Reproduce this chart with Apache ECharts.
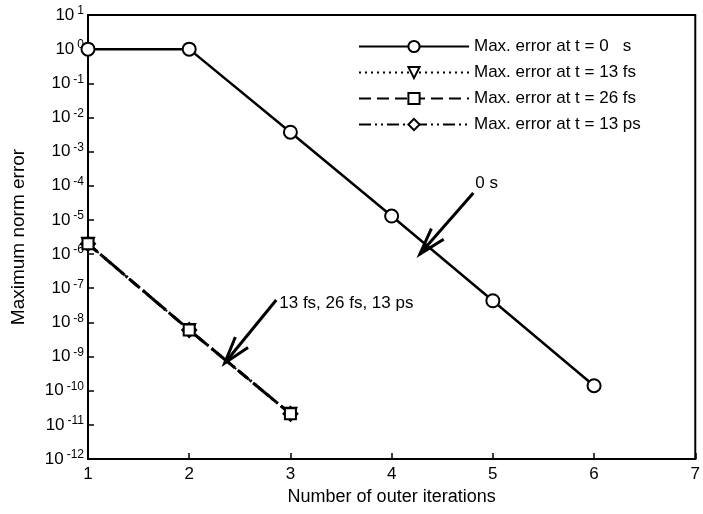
<!DOCTYPE html>
<html style="height: 100%;width:100%">
<head>
	<title>Maximum norm error</title>
	<meta charset="UTF-8">
	<script src="https://cdn.jsdelivr.net/npm/echarts@6/dist/echarts.min.js"></script>
	<style type="text/css">
		body{ height:100%;width:100%; margin:0px; background:#FFFFFF; }
	</style>
</head>
<body>
<div id="container" style="width:703px;height:514px"></div>

<script type="text/javascript">

// outer iteration numbers
var iterations = [1, 2, 3, 4, 5, 6];
var iterationsShort = [1, 2, 3];

// max norm error per series
var err0s = [1.0, 1.0, 3.7e-3, 1.3e-5, 4.3e-8, 1.4e-10];
var err13fs = [2.0e-6, 6.0e-9, 2.1e-11];
var err26fs = [2.0e-6, 6.0e-9, 2.1e-11];
var err13ps = [2.0e-6, 6.0e-9, 2.1e-11];

var seriesNames = ['Max. error at t = 0   s', 'Max. error at t = 13 fs', 'Max. error at t = 26 fs', 'Max. error at t = 13 ps'];

// arrows: [from, to] in data units
var arrow0s = [[4.807, 6.1e-5], [4.279, 1.0e-6]];
var arrowFs = [[2.860, 4.5e-8], [2.351, 6.5e-10]];
var arrowTexts = ['0 s', '13 fs, 26 fs, 13 ps'];

var fontName = "'Liberation Sans', Arial, sans-serif";

function pairs(xs, ys) {
	var out = [];
	for (var i = 0; i < ys.length; i++) {
		out.push([xs[i], ys[i]]);
	}
	return out;
}

var dom = document.getElementById("container");
var myChart = echarts.init(dom, null, {renderer: 'canvas'});

var option = {
	animation: false,
	textStyle: { fontFamily: fontName, color: '#000' },
	grid: {
		left: 88, right: 2, top: 15, bottom: 55,
		show: true, borderColor: '#000', borderWidth: 2, backgroundColor: 'transparent'
	},
	legend: {
		orient: 'vertical',
		left: 353, top: 33,
		itemWidth: 110, itemHeight: 14, itemGap: 9,
		textStyle: { fontSize: 17, color: '#000', fontFamily: fontName },
		data: seriesNames,
		selectedMode: false
	},
	xAxis: {
		type: 'value', min: 1, max: 7, interval: 1,
		name: 'Number of outer iterations', nameLocation: 'middle', nameGap: 26,
		nameTextStyle: { fontSize: 18, color: '#000', fontFamily: fontName },
		axisLine: { lineStyle: { color: '#000', width: 2 } },
		axisTick: { inside: true, length: 6, lineStyle: { width: 1.5, color: '#000' } },
		axisLabel: { fontSize: 17, color: '#000', margin: 7, fontFamily: fontName },
		splitLine: { show: false }
	},
	yAxis: {
		type: 'log', logBase: 10, min: 1e-12, max: 10, interval: 1, splitNumber: 13,
		name: 'Maximum norm error', nameLocation: 'middle', nameGap: 60,
		nameTextStyle: { fontSize: 19, color: '#000', fontFamily: fontName },
		axisLine: { lineStyle: { color: '#000', width: 2 } },
		axisTick: { inside: true, length: 6, lineStyle: { width: 1.5, color: '#000' } },
		axisLabel: {
			margin: 4,
			formatter: function (v) {
				var e = Math.round(Math.log(v) / Math.LN10);
				return '{b|10}{e|' + (e < 0 ? '-' + (-e) : e) + '}';
			},
			rich: {
				b: { fontSize: 17, color: '#000', fontFamily: fontName },
				e: { fontSize: 12, color: '#000', fontFamily: fontName, verticalAlign: 'top', padding: [0, 0, 8, 3] }
			}
		},
		splitLine: { show: false }
	},
	series: [
		{
			name: seriesNames[0], type: 'line', data: pairs(iterations, err0s),
			symbol: 'emptyCircle', symbolSize: 13,
			lineStyle: { color: '#000', width: 2.5, type: 'solid' },
			itemStyle: { color: '#000', borderWidth: 1.8 },
			emphasis: { disabled: true }, z: 4
		},
		{
			name: seriesNames[1], type: 'line', data: pairs(iterationsShort, err13fs),
			symbol: 'emptyTriangle', symbolRotate: 180, symbolSize: 12,
			lineStyle: { color: '#000', width: 2, type: [2, 4] },
			itemStyle: { color: '#000', borderWidth: 1.8 },
			emphasis: { disabled: true }, z: 2
		},
		{
			name: seriesNames[2], type: 'line', data: pairs(iterationsShort, err26fs),
			symbol: 'emptyRect', symbolSize: 11,
			lineStyle: { color: '#000', width: 3, type: [12, 6] },
			itemStyle: { color: '#000', borderWidth: 1.8 },
			emphasis: { disabled: true }, z: 3
		},
		{
			name: seriesNames[3], type: 'line', data: pairs(iterationsShort, err13ps),
			symbol: 'emptyDiamond', symbolSize: 14,
			lineStyle: { color: '#000', width: 3, type: [12, 4, 2, 4, 2, 4] },
			itemStyle: { color: '#000', borderWidth: 1.8 },
			emphasis: { disabled: true }, z: 2
		}
	]
};

myChart.setOption(option, true);

// open arrows drawn in pixel space from data-space end points
function arrowGraphics(arrow, label, dx, dy) {
	var p0 = myChart.convertToPixel({gridIndex: 0}, arrow[0]);
	var p1 = myChart.convertToPixel({gridIndex: 0}, arrow[1]);
	var ang = Math.atan2(p0[1] - p1[1], p0[0] - p1[0]);
	var len = 28, spread = 17 * Math.PI / 180;
	var b1 = [p1[0] + len * Math.cos(ang + spread), p1[1] + len * Math.sin(ang + spread)];
	var b2 = [p1[0] + len * Math.cos(ang - spread), p1[1] + len * Math.sin(ang - spread)];
	var st = { stroke: '#000', lineWidth: 3 };
	return [
		{ type: 'line', shape: { x1: p0[0], y1: p0[1], x2: p1[0], y2: p1[1] }, style: st, z: 10 },
		{ type: 'polyline', shape: { points: [b1, p1, b2] }, style: st, z: 10 },
		{ type: 'text', x: p0[0] + dx, y: p0[1] + dy, z: 10,
			style: { text: label, fill: '#000', fontSize: 17, fontFamily: fontName, verticalAlign: 'middle' } }
	];
}

myChart.setOption({
	graphic: arrowGraphics(arrow0s, arrowTexts[0], 2, -10).concat(arrowGraphics(arrowFs, arrowTexts[1], 3, 3))
});

window.onresize = function() {
	myChart.resize();
};

</script>
</body>
</html>
